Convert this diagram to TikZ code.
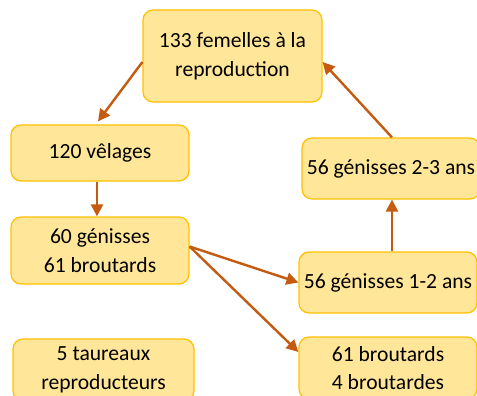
\documentclass[tikz,border=0pt]{standalone}
\usepackage{fontspec}
\setmainfont{Carlito}
\usetikzlibrary{arrows.meta}
\definecolor{boxfill}{HTML}{FFE699}
\definecolor{boxdraw}{HTML}{FFC000}
\definecolor{arr}{HTML}{C55A11}
\begin{document}
\begin{tikzpicture}[x=1pt,y=-1pt,
  box/.style={draw=boxdraw,fill=boxfill,line width=1.2pt,rounded corners=10pt,
    align=center,inner sep=0pt,font=\fontsize{21.6}{28.5}\selectfont},
  flow/.style={draw=arr,line width=2.4pt,-{Triangle[length=12pt,width=12pt]}}]
\useasboundingbox (0,0) rectangle (477,396);
\node[box,minimum width=179pt,minimum height=92pt] (top) at (232.5,56) {133 femelles à la\\reproduction};
\node[box,minimum width=178pt,minimum height=56pt] (vel) at (100,153) {120 vêlages};
\node[box,minimum width=178pt,minimum height=61pt] (g23) at (391,168.5) {56 génisses 2-3 ans};
\node[box,minimum width=178pt,minimum height=67pt] (g60) at (100,250.5) {60 génisses\\61 broutards};
\node[box,minimum width=178pt,minimum height=61pt] (g12) at (388,282.5) {56 génisses 1-2 ans};
\node[box,minimum width=181pt,minimum height=62pt] (taur) at (103.5,370) {5 taureaux\\reproducteurs};
\node[box,minimum width=178pt,minimum height=62pt] (brout) at (388,368) {61 broutards\\4 broutardes};
\coordinate (a1) at ([yshift=-6pt]top.west);
\coordinate (a2) at ([xshift=-2pt,yshift=3pt]vel.north);
\draw[flow] (a1) -- (a2);
\draw[flow] ([xshift=-3pt]vel.south) -- ([xshift=-3pt]g60.north);
\coordinate (b1) at ([yshift=4pt]g60.east);
\draw[flow] (b1) -- (g12.west);
\draw[flow] (b1) -- ([yshift=16pt]brout.west);
\draw[flow] ([xshift=4pt]g12.north) -- ([xshift=4pt]g12.north |- g23.south);
\draw[flow] ([xshift=1pt]g23.north) -- ([yshift=-6pt]top.east);
\end{tikzpicture}
\end{document}
